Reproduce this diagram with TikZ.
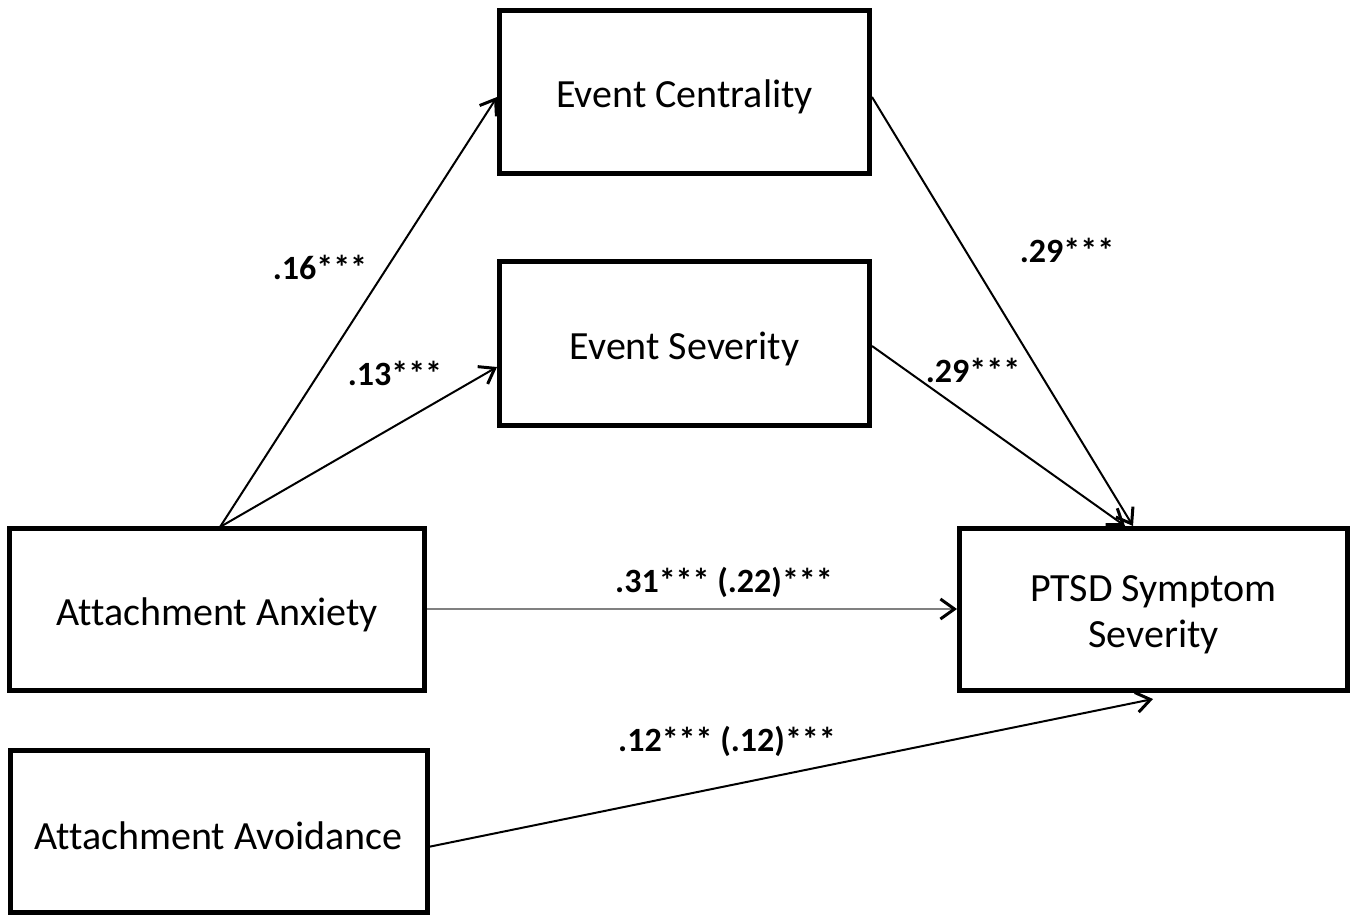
\documentclass[tikz,border=0pt]{standalone}
\usepackage{fontspec}
\setmainfont[Ligatures=NoCommon]{Carlito}
\usetikzlibrary{arrows.meta}
\begin{document}
\begin{tikzpicture}[x=1pt,y=-1pt,
  box/.style={draw=black, line width=5pt, inner sep=0pt},
  txt/.style={font=\fontsize{40}{46}\selectfont, align=center, inner sep=0pt},
  conn/.style={line width=2pt, -{Straight Barb[length=14pt,width=20pt,line width=3pt,color=black]}},
  lbl/.style={font=\fontsize{34}{40}\selectfont\bfseries, inner sep=0pt}]
\useasboundingbox (0,0) rectangle (1355,914);
\node[box, minimum width=370pt, minimum height=163pt] (ec) at (684.5,92) {};
\node[box, minimum width=370pt, minimum height=164pt] (es) at (684.5,343.5) {};
\node[box, minimum width=415pt, minimum height=162pt] (anx) at (217,609.5) {};
\node[box, minimum width=388pt, minimum height=162pt] (pt) at (1153.5,609.5) {};
\node[box, minimum width=417pt, minimum height=162pt] (av) at (218.5,831) {};
\node[txt] (ect) at ([yshift=-5pt]ec.center) {Event Centrality};
\node[txt] (est) at ([yshift=-5pt]es.center) {Event Severity};
\node[txt] (anxt) at ([yshift=-5pt]anx.center) {Attachment Anxiety};
\node[txt] (ptt) at ([yshift=-5pt]pt.center) {PTSD Symptom\\Severity};
\node[txt] (avt) at ([yshift=-5pt]av.center) {Attachment Avoidance};
\coordinate (anxtop) at (220,527);
\coordinate (ecin) at (497,97);
\coordinate (esin) at (497,367);
\coordinate (ecout) at (872,97);
\coordinate (esout) at (872,346);
\coordinate (pttop1) at (1133,526);
\coordinate (pttop2) at (1125,526);
\coordinate (ptleft) at (957,609);
\coordinate (anxright) at (427,609);
\coordinate (avright) at (428,847);
\coordinate (ptbot) at (1153,699);
\draw[conn] (anxtop) -- (ecin);
\draw[conn] (anxtop) -- (esin);
\draw[conn] (ecout) -- (pttop1);
\draw[conn] (esout) -- (pttop2);
\draw[conn, draw=gray] (anxright) -- (ptleft);
\draw[conn] (avright) -- (ptbot);
\node[lbl] (l1) at (320,267) {.16***};
\node[lbl] (l2) at (395,373) {.13***};
\node[lbl] (l3) at (1067,250) {.29***};
\node[lbl] (l4) at (973,370) {.29***};
\node[lbl] (l5) at (724,582) {.31*** (.22)***};
\node[lbl] (l6) at (727,741) {.12*** (.12)***};
\end{tikzpicture}
\end{document}
